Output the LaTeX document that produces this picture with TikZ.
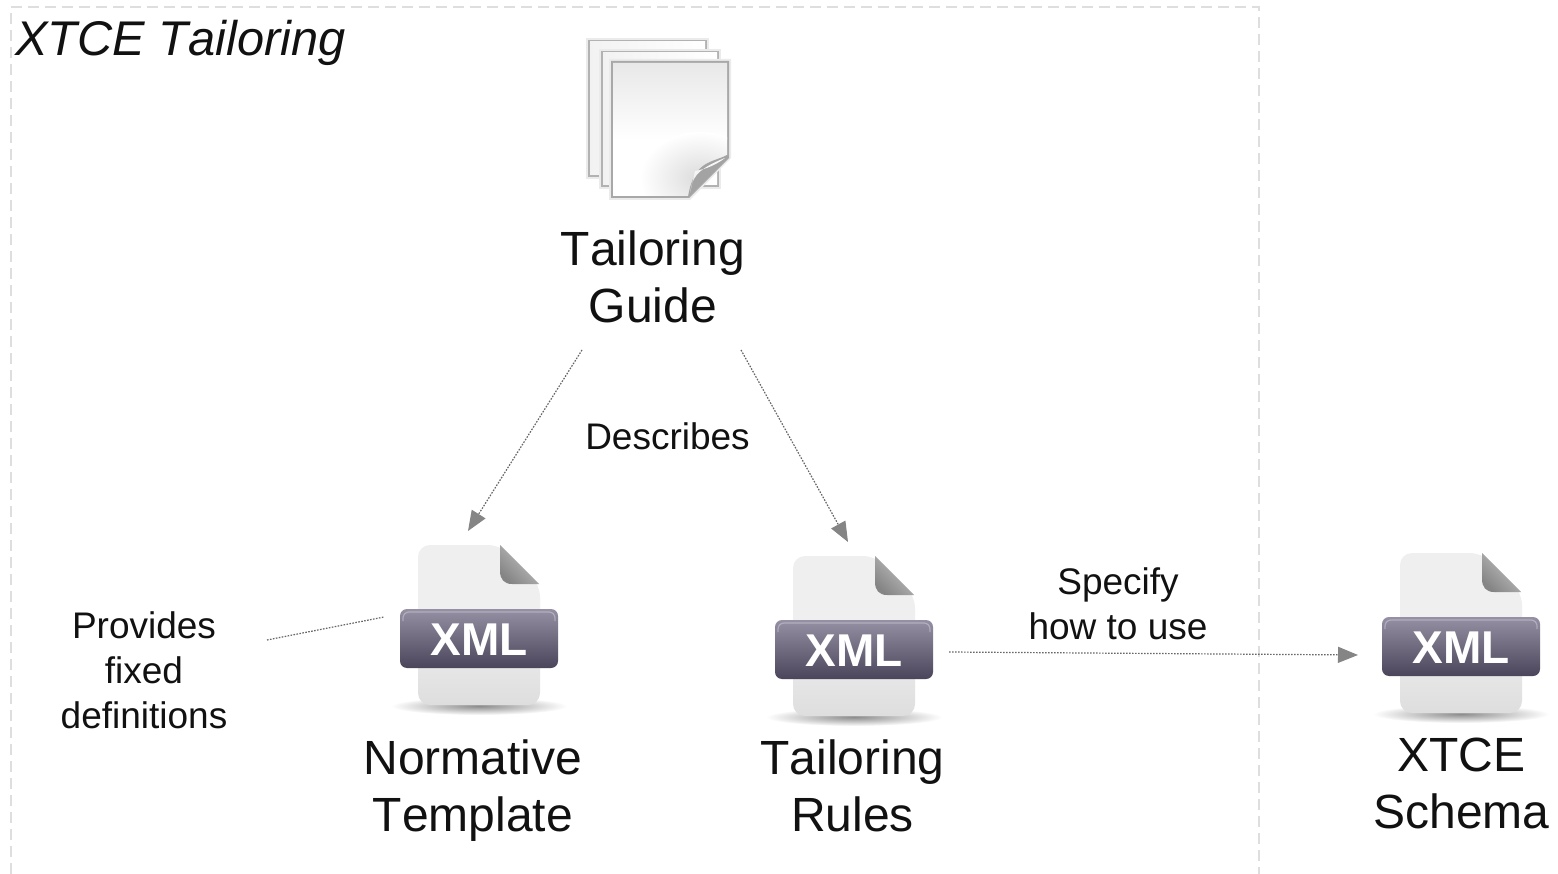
\documentclass[tikz,border=0pt]{standalone}
\usepackage{fontspec}
\setmainfont[Kerning=Off]{Liberation Sans}
\usetikzlibrary{arrows.meta}
\definecolor{frameC}{HTML}{DEDEDE}
\definecolor{linkC}{HTML}{666666}
\definecolor{tipC}{HTML}{858585}
\definecolor{inkC}{HTML}{111111}
\definecolor{pageC}{HTML}{EFEFEF}
\definecolor{bandTop}{RGB}{150,144,164}
\definecolor{bandBot}{RGB}{74,69,90}
\tikzset{
  x=1pt,y=-1pt,
  big/.style={font=\fontsize{48}{57}\selectfont,align=center,inner sep=0pt,text=inkC},
  small/.style={font=\fontsize{37}{45}\selectfont,align=center,inner sep=0pt,text=inkC},
  title/.style={font=\fontsize{48.7}{57}\selectfont\itshape,inner sep=0pt,text=inkC,anchor=base west},
  frameline/.style={draw=frameC,line width=1.6pt,dash pattern=on 11pt off 6pt},
  link/.style={draw=linkC,line width=1.2pt,dash pattern=on 1.6pt off 1.4pt,-{Triangle[length=20pt,width=16pt,fill=tipC,color=tipC]}},
  plainlink/.style={draw=linkC,line width=1.2pt,dash pattern=on 1.6pt off 1.4pt},
  xmlicon/.pic={
    % ground shadow
    \shade[inner color=black!45,outer color=white] (79,161) ellipse [x radius=88,y radius=9];
    % page
    \shade[top color=pageC,bottom color=black!13,middle color=pageC,rounded corners=12pt]
      (18,0) -- (100,0) -- (140,40) -- (140,160) -- (18,160) -- cycle;
    % fold
    \shade[top color=black!22,bottom color=black!48,shading angle=-45]
      (100,0) -- (139,39) -- (112,39) .. controls (104,39) and (100,34) .. (100,26) -- cycle;
    % band
    \shade[top color=bandTop,bottom color=bandBot,rounded corners=7pt]
      (0,64) rectangle (158,123);
    \draw[white,opacity=.3,line width=1.2pt,rounded corners=6pt] (3,76) -- (3,67) -- (155,67) -- (155,76);
    \node[inner sep=0pt,text=white,font=\fontsize{46}{46}\selectfont\bfseries] at (79,95) {XML};
  },
}
\begin{document}
\begin{tikzpicture}
\useasboundingbox (0,0) rectangle (1558,874);
\fill[white] (0,0) rectangle (1558,874);
% frame
\draw[frameline] (11,874) -- (11,7) -- (1259,7) -- (1259,874);
\node[title] (frametitle) at (15,56) {XTCE Tailoring};

% stacked pages
\begin{scope}
  \fill[black!8] (586,38) rectangle (709,179);
  \fill[black!30] (588,40) rectangle (707,177);
  \shade[left color=black!5,right color=white] (590,42) rectangle (705,175);
  \fill[black!8] (599,49) rectangle (721,189);
  \fill[black!30] (601,51) rectangle (719,187);
  \shade[left color=black!5,right color=white] (603,53) rectangle (717,185);
  \fill[black!8] (609,59) -- (731,59) -- (731,158) -- (690,200) -- (609,200) -- cycle;
  \fill[black!34] (611,61) -- (729,61) -- (729,158) -- (689,198) -- (611,198) -- cycle;
  \begin{scope}
    \clip (613,63) -- (727,63) -- (727,157) -- (688,196) -- (613,196) -- cycle;
    \fill[white] (613,63) rectangle (727,196);
    \shade[top color=black!9,bottom color=white] (613,63) rectangle (727,140);
    % soft shade above the curl
    \shade[inner color=black!14,outer color=white] (700,178) ellipse [x radius=60,y radius=46];
  \end{scope}
  % curl
  \fill[black!36] (688,197) -- (729,157) -- (727,155) .. controls (712,163) and (694,160) .. (688,197) -- cycle;
  \shade[top color=white,bottom color=black!14,shading angle=20]
    (690,193) .. controls (692,180) and (694,170) .. (725,158) .. controls (712,168) and (700,170) .. (695,171) -- cycle;
\end{scope}
\node[big] (guide) at (653,277) {Tailoring\\Guide};

% icons
\pic at (400,545) {xmlicon};
\pic at (775,556) {xmlicon};
\pic at (1382,553) {xmlicon};

\node[big] (normative) at (473,791) {Normative\\Template};
\node[big] (rules) at (852.5,786) {Tailoring\\Rules};
\node[big] (schema) at (1461.5,783) {XTCE\\Schema};

\node[small] (describes) at (667.5,436) {Describes};
\node[small] (specify) at (1118,603.5) {Specify\\how to use};
\node[small] (provides) at (144,670.5) {Provides\\fixed\\definitions};

% connector ends
\coordinate (guideL) at (582,350);
\coordinate (guideR) at (741,350);
\coordinate (normIn) at (468,531);
\coordinate (rulesIn) at (848,542);
\coordinate (rulesOut) at (949,652);
\coordinate (schemaIn) at (1358,655);
\coordinate (provEnd) at (267,640);
\coordinate (normSide) at (384,617);

\draw[link] (guideL) -- (normIn);
\draw[link] (guideR) -- (rulesIn);
\draw[link] (rulesOut) -- (schemaIn);
\draw[plainlink] (provEnd) -- (normSide);
\end{tikzpicture}
\end{document}
